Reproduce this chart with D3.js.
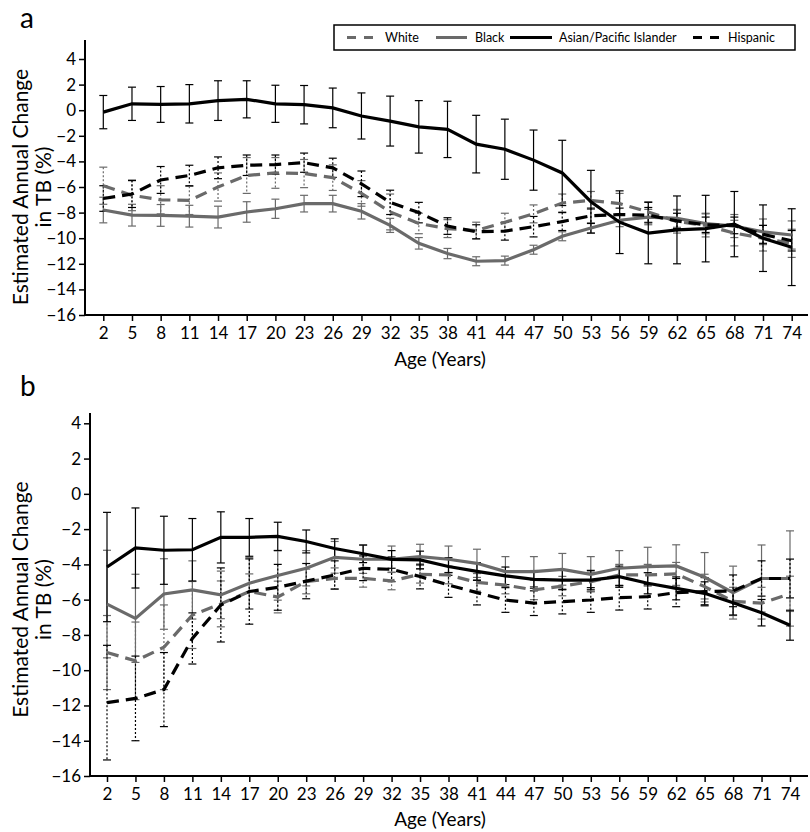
<!DOCTYPE html>
<html><head><meta charset="utf-8">
<script src="https://cdn.jsdelivr.net/npm/d3@7"></script>
<style>body{margin:0;background:#fff} svg text{font-family:Lato,"Open Sans",sans-serif;fill:#000}</style>
</head><body><svg id="c" width="810" height="832"></svg>
<script>
const ages = [2,5,8,11,14,17,20,23,26,29,32,35,38,41,44,47,50,53,56,59,62,65,68,71,74];
const yTicks = [4,2,0,-2,-4,-6,-8,-10,-12,-14,-16];
const seriesNames = ["White","Black","Asian/Pacific Islander","Hispanic"];

// Panel a
const whiteA    = [-5.9,-6.65,-7.0,-7.05,-6.0,-5.1,-4.9,-4.95,-5.27,-6.5,-7.95,-8.85,-9.25,-9.4,-8.75,-8.1,-7.25,-7.05,-7.3,-7.95,-8.7,-9.0,-9.6,-10.0,-10.4];
const whiteAErr = [1.45,1.2,1.1,1.1,1.1,1.4,1.2,1.1,1.0,1.0,1.4,0.8,0.7,0.65,0.7,0.7,0.7,0.7,0.8,0.8,0.9,0.9,1.0,1.0,1.1];
const blackA    = [-7.8,-8.2,-8.22,-8.28,-8.35,-7.95,-7.7,-7.3,-7.3,-7.9,-9.0,-10.4,-11.2,-11.8,-11.75,-10.9,-9.85,-9.2,-8.6,-8.35,-8.45,-8.85,-9.05,-9.5,-9.75];
const blackAErr = [1.0,0.85,0.85,0.85,0.85,0.8,0.75,0.65,0.65,0.6,0.55,0.45,0.4,0.35,0.35,0.35,0.35,0.4,0.5,0.6,0.7,0.8,0.9,1.0,1.1];
const asianA    = [-0.15,0.5,0.45,0.5,0.75,0.85,0.5,0.43,0.18,-0.45,-0.85,-1.3,-1.5,-2.65,-3.05,-3.9,-4.9,-7.15,-8.75,-9.6,-9.35,-9.25,-8.9,-10.0,-10.7];
const asianAErr = [1.3,1.3,1.4,1.5,1.55,1.45,1.45,1.5,1.55,1.8,1.95,2.05,2.2,2.25,2.35,2.35,2.55,2.45,2.45,2.4,2.65,2.6,2.55,2.6,3.0];
const hispA     = [-6.9,-6.55,-5.45,-5.1,-4.5,-4.3,-4.25,-4.1,-4.5,-5.75,-7.2,-8.0,-9.05,-9.5,-9.45,-9.1,-8.7,-8.25,-8.15,-8.2,-8.65,-8.95,-9.0,-9.7,-10.2];
const hispAErr  = [1.0,1.05,1.05,0.8,0.85,0.8,0.75,0.75,0.75,1.0,0.95,0.8,0.65,0.55,0.7,0.8,0.7,0.6,0.5,0.6,0.6,0.6,0.65,0.7,0.8];

// Panel b
const whiteB    = [-9.0,-9.47,-8.7,-6.87,-6.24,-5.54,-5.85,-4.97,-4.8,-4.79,-4.94,-4.56,-4.6,-5.02,-5.17,-5.45,-5.23,-4.98,-4.6,-4.6,-4.54,-5.26,-6.1,-6.2,-5.67];
const whiteBErr = [2.1,2.2,2.4,1.9,1.3,1.0,0.9,0.7,0.6,0.5,0.5,0.5,0.5,0.5,0.5,0.55,0.55,0.55,0.6,0.6,0.65,0.7,0.8,0.9,1.0];
const blackB    = [-6.25,-7.06,-5.68,-5.45,-5.73,-5.07,-4.63,-4.22,-3.6,-3.71,-3.71,-3.56,-3.71,-3.94,-4.41,-4.41,-4.28,-4.56,-4.22,-4.13,-4.09,-4.73,-5.6,-4.8,-4.8];
const blackBErr = [3.05,2.5,2.0,1.65,1.35,1.45,1.4,1.0,0.9,0.8,0.75,0.7,0.75,0.8,0.85,0.85,0.9,1.0,1.0,1.1,1.2,1.4,1.5,1.9,2.7];
const asianB    = [-4.15,-3.07,-3.2,-3.17,-2.47,-2.47,-2.41,-2.7,-3.1,-3.4,-3.72,-3.75,-4.12,-4.4,-4.65,-4.85,-4.89,-4.89,-4.7,-5.07,-5.36,-5.64,-6.17,-6.74,-7.45];
const asianBErr = [3.1,2.27,1.93,1.77,1.45,1.07,0.8,0.65,0.55,0.5,0.5,0.5,0.5,0.5,0.5,0.5,0.55,0.55,0.6,0.6,0.65,0.65,0.7,0.75,0.85];
const hispB     = [-11.84,-11.6,-11.1,-8.2,-6.3,-5.54,-5.3,-4.95,-4.6,-4.22,-4.28,-4.69,-5.17,-5.6,-6.02,-6.2,-6.11,-6.02,-5.89,-5.83,-5.6,-5.55,-5.5,-4.8,-4.8];
const hispBErr  = [3.25,2.4,2.1,1.45,2.1,1.85,1.3,1.0,0.8,0.7,0.7,0.7,0.7,0.7,0.7,0.7,0.7,0.7,0.7,0.7,0.8,0.8,0.9,1.0,1.1];

const GRAY = "#6a6a6a";
const FONT = 'Lato,"Open Sans",sans-serif';
const styles = {
  "White": {color: GRAY, dash: "12,7", barDash: "2,2"},
  "Black": {color: GRAY, dash: null, barDash: null},
  "Asian/Pacific Islander": {color: "#000", dash: null, barDash: null},
  "Hispanic": {color: "#000", dash: "12,7", barDash: "2,2"}
};

const svg = d3.select("#c");

function panel(cfg) {
  const g = svg.append("g");
  const x = d3.scalePoint().domain(ages).range(cfg.xr);
  const y = d3.scaleLinear().domain([-16, 4]).range(cfg.yr);

  // y axis
  const ya = d3.axisLeft(y).tickValues(yTicks).tickSize(6).tickPadding(3).tickFormat(d3.format("d"));
  const yg = g.append("g").attr("transform", `translate(${cfg.ax},0)`).call(ya);
  yg.select(".domain").remove();
  yg.append("line").attr("x1",0).attr("x2",0).attr("y1",cfg.axisTop).attr("y2",y(-16)).attr("stroke","#000").attr("stroke-width",2);
  yg.selectAll(".tick line").attr("stroke","#000").attr("stroke-width",1.5);
  yg.selectAll(".tick text").style("font-size","17px").style("font-family",FONT);

  // x axis
  const xa = d3.axisBottom(x).tickSize(6).tickPadding(6);
  const xg = g.append("g").attr("transform", `translate(0,${y(-16)})`).call(xa);
  xg.select(".domain").remove();
  xg.append("line").attr("x1",cfg.ax).attr("x2",808).attr("y1",0).attr("y2",0).attr("stroke","#000").attr("stroke-width",2);
  xg.selectAll(".tick line").attr("stroke","#000").attr("stroke-width",1.5);
  xg.selectAll(".tick text").style("font-size","17px").style("font-family",FONT);

  // titles
  g.append("text").attr("x", 440).attr("y", cfg.xtitleY).attr("text-anchor","middle").style("font-size","19px").text("Age (Years)");
  const midY = (y(4) + y(-16)) / 2;
  const tt = g.append("text").attr("transform", `translate(28,${midY}) rotate(-90)`).attr("text-anchor","middle").style("font-size","21px");
  tt.append("tspan").attr("x",0).attr("dy",0).text("Estimated Annual Change");
  tt.append("tspan").attr("x",0).attr("dy",23).text("in TB (%)");
  g.append("text").attr("x", 20).attr("y", cfg.labelY).style("font-size","28px").text(cfg.label);

  // error bars
  cfg.series.forEach(s => {
    const st = styles[s.name];
    const eb = g.append("g");
    ages.forEach((a, i) => {
      const cx = x(a), y1 = y(s.v[i] + s.e[i]), y2 = y(s.v[i] - s.e[i]);
      eb.append("line").attr("x1",cx).attr("x2",cx).attr("y1",y1).attr("y2",y2)
        .attr("stroke",st.color).attr("stroke-width",1.2).attr("stroke-dasharray",st.barDash);
      [y1, y2].forEach(yy => eb.append("line").attr("x1",cx-4).attr("x2",cx+4).attr("y1",yy).attr("y2",yy)
        .attr("stroke",st.color).attr("stroke-width",1.2));
    });
  });
  // lines
  const line = d3.line().x((d,i)=>x(ages[i])).y(d=>y(d));
  cfg.series.forEach(s => {
    const st = styles[s.name];
    g.append("path").datum(s.v).attr("d", line).attr("fill","none")
      .attr("stroke", st.color).attr("stroke-width", 3.2).attr("stroke-dasharray", st.dash);
  });
}

panel({label:"a", labelY:28, ax:85, axisTop:40, xr:[103.3,791.7], yr:[315,59], xtitleY:366,
  series:[{name:"White",v:whiteA,e:whiteAErr},{name:"Black",v:blackA,e:blackAErr},
          {name:"Asian/Pacific Islander",v:asianA,e:asianAErr},{name:"Hispanic",v:hispA,e:hispAErr}]});
panel({label:"b", labelY:396, ax:90, axisTop:413, xr:[107,790], yr:[776,423.3], xtitleY:826,
  series:[{name:"White",v:whiteB,e:whiteBErr},{name:"Black",v:blackB,e:blackBErr},
          {name:"Asian/Pacific Islander",v:asianB,e:asianBErr},{name:"Hispanic",v:hispB,e:hispBErr}]});

// legend
const lg = svg.append("g");
lg.append("rect").attr("x",334).attr("y",25).attr("width",461).attr("height",25).attr("fill","#fff").attr("stroke","#000").attr("stroke-width",1.5);
const legPos = [{x1:347,x2:375,tx:385},{x1:436,x2:467,tx:475},{x1:510,x2:552,tx:559},{x1:693,x2:721,tx:728}];
seriesNames.forEach((n, i) => {
  const st = styles[n], p = legPos[i];
  lg.append("line").attr("x1",p.x1).attr("x2",p.x2).attr("y1",37.5).attr("y2",37.5)
    .attr("stroke",st.color).attr("stroke-width",3).attr("stroke-dasharray", st.dash ? "9,8" : null);
  lg.append("text").attr("x",p.tx).attr("y",42).style("font-size","12.5px").text(n);
});
</script></body></html>
